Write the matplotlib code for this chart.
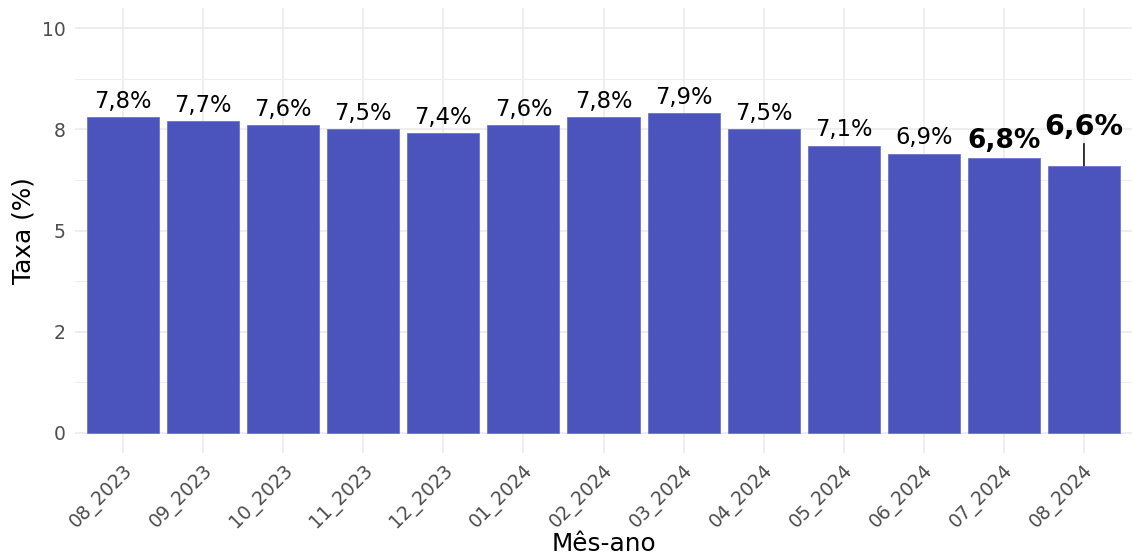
import matplotlib.pyplot as plt
import numpy as np

meses = ["08_2023", "09_2023", "10_2023", "11_2023", "12_2023", "01_2024", "02_2024",
         "03_2024", "04_2024", "05_2024", "06_2024", "07_2024", "08_2024"]
taxas = [7.8, 7.7, 7.6, 7.5, 7.4, 7.6, 7.8, 7.9, 7.5, 7.1, 6.9, 6.8, 6.6]
destaque = ["07_2024", "08_2024"]
yticks = [0, 2.5, 5, 7.5, 10]
ytick_labels = ["0", "2", "5", "8", "10"]

fig = plt.figure(figsize=(11.32, 5.58), dpi=100)
ax = fig.add_axes([75 / 1132, 1 - 453 / 558, 1 - 75 / 1132, (453 - 8) / 558])

x = np.arange(len(meses))
ax.bar(x, taxas, width=0.9, color="#4B53BD", edgecolor="#6F75CC", linewidth=0.6, zorder=2)

for i, (mes, v) in enumerate(zip(meses, taxas)):
    txt = f"{v:.1f}%".replace(".", ",")
    if mes == meses[-1]:
        ax.annotate(txt, xy=(i, v), xytext=(0, 18), textcoords="offset points",
                    ha="center", va="bottom", fontsize=20.5, fontweight="bold",
                    arrowprops=dict(arrowstyle="-", color="black", lw=1.1, shrinkA=0, shrinkB=0))
    elif mes in destaque:
        ax.annotate(txt, xy=(i, v), xytext=(0, 3), textcoords="offset points",
                    ha="center", va="bottom", fontsize=19, fontweight="bold")
    else:
        ax.annotate(txt, xy=(i, v), xytext=(0, 3), textcoords="offset points",
                    ha="center", va="bottom", fontsize=16.3)

ax.set_xlim(-0.6, len(meses) - 0.4)
ax.set_ylim(-0.5, 10.5)
ax.set_xticks(x)
ax.set_xticklabels(meses, rotation=45, ha="right", rotation_mode="anchor")
ax.set_yticks(yticks)
ax.set_yticklabels(ytick_labels)
ax.set_yticks([1.25, 3.75, 6.25, 8.75], minor=True)
ax.tick_params(axis="both", which="both", length=0, labelsize=13.5, labelcolor="#4D4D4D")
ax.tick_params(axis="x", pad=6)
ax.tick_params(axis="y", pad=7)
ax.grid(True, which="major", color="#EBEBEB", linewidth=1.2, zorder=0)
ax.grid(True, which="minor", axis="y", color="#EBEBEB", linewidth=0.6, zorder=0)
ax.set_axisbelow(True)
for s in ax.spines.values():
    s.set_visible(False)

ax.set_xlabel("Mês-ano", fontsize=17.8, labelpad=0)
ax.set_ylabel("Taxa (%)", fontsize=17.8, labelpad=4)

fig.savefig("out.png", dpi=100)
